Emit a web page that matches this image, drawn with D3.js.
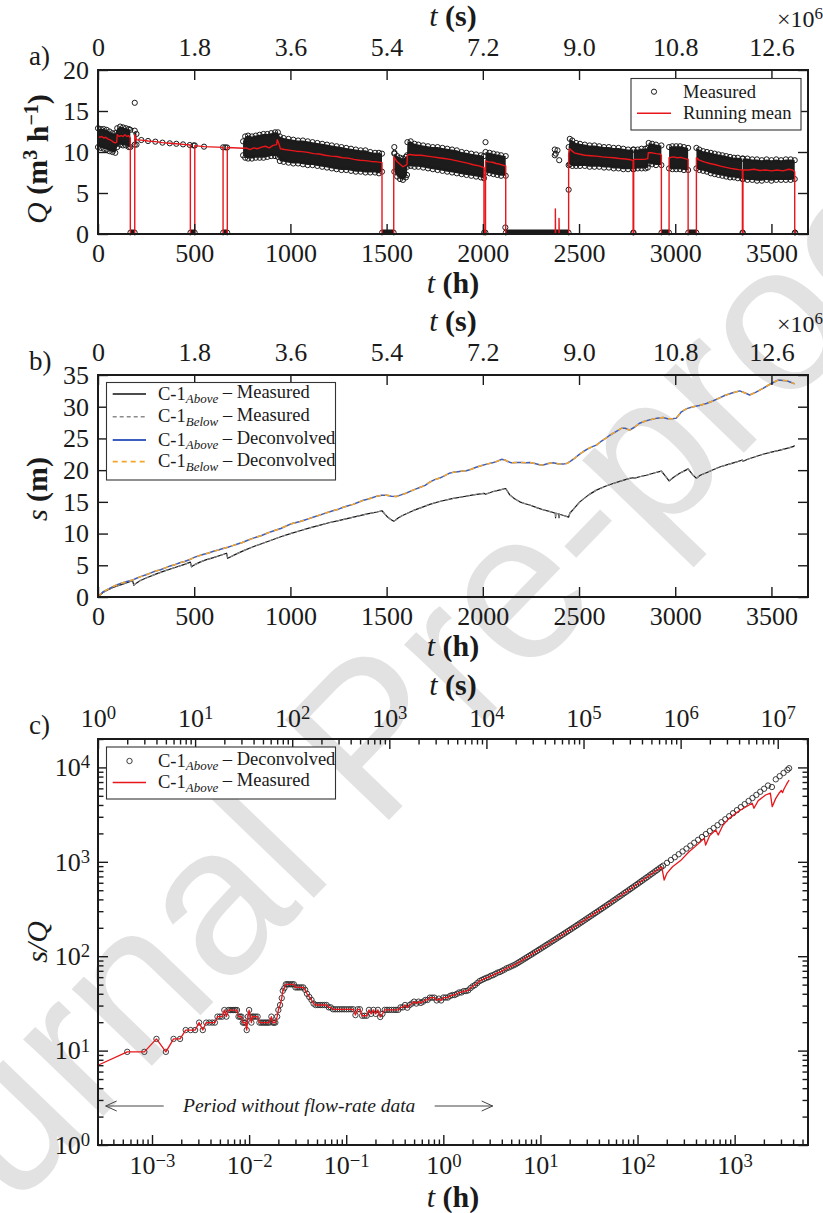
<!DOCTYPE html>
<html>
<head>
<meta charset="utf-8">
<script src="https://cdn.jsdelivr.net/npm/d3@7"></script>
<style>
  html, body { margin: 0; padding: 0; background: #fff; }
</style>
</head>
<body>
<svg id="fig" width="823" height="1213"></svg>
<script>
// ---------------------------------------------------------------------------
// Panel a: pumping rate Q (m3/h) versus time (h)
// ---------------------------------------------------------------------------
// Envelope of the measured scatter: [t (h), lower Q, upper Q]; null splits segments
const qBand = [
  [0,10.6,12.9],[15,10.5,12.8],[30,10.4,12.8],[45,10.3,12.7],[60,10.1,12.5],[75,10.0,12.3],
  [90,9.9,12.3],[100,10.6,12.9],[115,10.9,13.1],[130,10.8,13.0],[145,10.8,12.9],[160,10.6,12.8],
  [168,10.6,12.7], null,
  [191,10.9,12.6],[200,10.9,12.2], null,
  [754,9.6,11.3],[765,9.3,11.9],[780,9.2,12.0],[800,9.2,11.9],[820,9.3,12.0],[840,9.3,12.1],
  [860,9.3,12.2],[880,9.4,12.2],[900,9.5,12.3],[920,9.5,12.4],[935,9.4,12.4],[945,8.9,11.9],
  [965,8.8,11.7],[990,8.7,11.6],[1015,8.6,11.5],[1040,8.6,11.4],[1065,8.5,11.4],[1090,8.4,11.3],
  [1115,8.4,11.2],[1140,8.3,11.1],[1165,8.2,11.0],[1190,8.1,10.9],[1215,8.0,10.8],[1240,7.9,10.7],
  [1265,7.8,10.6],[1290,7.8,10.5],[1315,7.7,10.4],[1340,7.6,10.3],[1365,7.6,10.2],[1390,7.5,10.2],
  [1415,7.5,10.0],[1440,7.5,9.9],[1460,7.4,9.9],[1476,7.6,9.8], null,
  [1540,7.6,9.8],[1555,7.0,9.5],[1570,6.7,9.3],[1585,6.6,9.2],[1600,6.9,9.4],[1606,7.2,9.6],
  [1608,8.2,11.2],[1625,8.3,11.3],[1645,8.2,11.0],[1665,8.2,10.9],[1690,8.1,10.8],[1715,8.0,10.7],
  [1740,7.9,10.6],[1765,7.8,10.6],[1790,7.7,10.5],[1815,7.6,10.4],[1840,7.5,10.3],[1865,7.4,10.2],
  [1890,7.3,10.0],[1915,7.2,9.9],[1940,7.1,9.8],[1965,7.0,9.7],[1990,6.9,9.6],[2006,6.8,9.5], null,
  [2014,7.5,10.0],[2035,7.4,9.9],[2055,7.3,9.8],[2075,7.2,9.7],[2095,7.1,9.6],[2119,7.1,9.5], null,
  [2446,8.4,10.6],[2452,8.5,11.6],[2465,8.3,11.4],[2485,8.3,11.1],[2505,8.3,11.0],[2530,8.3,10.9],
  [2555,8.2,10.8],[2580,8.2,10.8],[2605,8.2,10.7],[2630,8.1,10.6],[2655,8.1,10.6],[2680,8.0,10.5],
  [2705,8.0,10.5],[2730,7.9,10.4],[2755,7.9,10.3],[2781,7.9,10.3], null,
  [2784,7.9,10.3],[2805,8.0,10.3],[2825,8.0,10.4],[2845,8.0,10.4],[2857,8.1,10.5],[2862,8.6,11.1],
  [2880,8.5,11.0],[2900,8.4,10.9],[2928,8.4,10.8], null,
  [2968,8.0,10.6],[2985,7.9,10.7],[3005,7.9,10.7],[3025,7.9,10.7],[3045,7.8,10.6],[3067,7.8,10.5], null,
  [3110,8.0,10.5],[3125,7.8,10.3],[3145,7.7,10.1],[3165,7.6,10.0],[3185,7.4,9.9],[3205,7.3,9.8],
  [3225,7.2,9.7],[3245,7.1,9.6],[3265,7.0,9.5],[3285,6.9,9.4],[3305,6.9,9.3],[3325,6.8,9.3],
  [3349,6.7,9.2], null,
  [3352,6.7,9.2],[3375,6.6,9.2],[3400,6.6,9.1],[3425,6.5,9.1],[3450,6.5,9.0],[3475,6.6,9.1],
  [3500,6.5,9.0],[3525,6.6,9.1],[3550,6.6,9.0],[3575,6.6,9.1],[3600,6.6,9.1],[3621,6.7,9.0]
];

// Isolated measured readings outside the dense record: [t (h), Q]
const qSparse = [
  [191,16.0],[225,11.46],[260,11.34],[298,11.26],[335,11.14],[373,11.06],[407,11.0],[442,10.93],
  [477,10.85],[497,10.8],[503,10.8],[551,10.65],[650,10.57],[662,10.57],[671,10.55],
  [1540,10.6],[1541,9.9],[2014,11.2],[2117,0.8],[2374,10.3],[2379,9.8],[2388,10.2],[2374,9.6],
  [2397,9.0],[2446,5.4]
];

// Stoppages (zero flow): [start h, end h]
const qZero = [
  [168,191],[480,503],[650,672],[1476,1537],[2006,2014],[2119,2446],[2781,2784],
  [2928,2968],[3067,3110],[3349,3352],[3621,3624]
];

// Running mean of Q (drops to zero during stoppages): [t (h), Q]
const qMean = [
  [0,11.9],[10,11.8],[20,11.9],[30,11.7],[40,11.8],[50,11.6],[60,11.5],[70,11.4],[80,11.2],[90,11.1],
  [97,11.2],[100,12.1],[110,11.9],[120,12.0],[130,11.9],[140,12.1],[150,11.9],[160,12.0],[168,11.7],
  [168,0],[191,0],[191,12.1],[200,11.5],[225,11.45],[260,11.34],[298,11.26],[335,11.14],[373,11.06],
  [407,11.0],[442,10.93],[480,10.85],[480,0],[503,0],[503,10.78],[551,10.65],[650,10.57],[650,0],
  [672,0],[672,10.55],[754,10.45],[770,10.5],[790,10.3],[810,10.5],[830,10.4],[850,10.6],[870,10.7],
  [890,10.5],[910,10.8],[928,10.9],[932,11.5],[940,11.0],[948,10.4],[970,10.3],[1000,10.2],
  [1030,10.1],[1060,10.05],[1090,9.95],[1120,9.8],[1150,9.75],[1180,9.6],[1210,9.5],[1240,9.45],
  [1270,9.3],[1300,9.25],[1330,9.1],[1360,9.0],[1390,8.95],[1420,8.85],[1450,8.8],[1476,8.7],
  [1476,0],[1537,0],[1537,9.4],[1555,8.8],[1570,8.5],[1585,8.2],[1600,8.4],[1606,8.5],[1608,9.6],
  [1620,9.7],[1650,9.6],[1680,9.6],[1710,9.5],[1740,9.4],[1770,9.3],[1800,9.2],[1830,9.1],
  [1860,8.95],[1890,8.8],[1920,8.65],[1950,8.45],[1980,8.3],[2006,8.1],[2006,0],[2014,0],[2014,8.9],
  [2030,8.8],[2050,8.75],[2070,8.6],[2090,8.5],[2110,8.35],[2119,8.3],[2119,0],[2377,0],[2377,3.05],
  [2378,0],[2396,0],[2396,1.9],[2397,0],[2446,0],[2446,9.8],[2452,10.4],[2460,10.2],[2475,9.9],
  [2500,9.75],[2530,9.6],[2560,9.55],[2590,9.5],[2620,9.4],[2650,9.35],[2680,9.3],[2710,9.2],
  [2740,9.15],[2770,9.05],[2781,8.95],[2781,0],[2784,0],[2784,9.1],[2810,9.1],[2840,9.1],[2857,9.2],
  [2860,9.9],[2880,9.9],[2900,9.8],[2920,9.75],[2928,9.6],[2928,0],[2968,0],[2968,9.3],[2990,9.4],
  [3010,9.3],[3030,9.35],[3050,9.2],[3067,9.1],[3067,0],[3110,0],[3110,9.3],[3125,9.0],[3150,8.8],
  [3180,8.6],[3210,8.45],[3240,8.25],[3270,8.1],[3300,7.95],[3330,7.85],[3349,7.8],[3349,0],
  [3352,0],[3352,7.8],[3380,7.8],[3410,7.9],[3440,7.75],[3470,7.8],[3500,7.7],[3530,7.8],[3560,7.7],
  [3590,7.9],[3610,7.8],[3621,7.6],[3621,0]
];

// ---------------------------------------------------------------------------
// Panel b: drawdown s (m) versus time (h)
// ---------------------------------------------------------------------------
const sAboveMeasured = [
  [0,0],[25,0.7],[50,1.1],[75,1.45],[100,1.75],[125,2.0],[150,2.25],[168,2.45],[180,2.55],[186,1.85],
  [195,2.1],[220,2.6],[250,3.0],[300,3.6],[350,4.15],[400,4.65],[450,5.15],[480,5.5],[486,4.75],
  [495,4.95],[503,5.1],[530,5.5],[560,5.85],[600,6.2],[650,6.7],[668,6.9],[674,6.1],[690,6.35],
  [720,6.8],[760,7.35],[800,7.85],[850,8.4],[900,8.95],[950,9.5],[1000,10.0],[1050,10.45],[1100,10.9],
  [1150,11.3],[1200,11.7],[1250,12.05],[1300,12.4],[1350,12.75],[1400,13.1],[1450,13.4],[1476,13.6],
  [1490,13.1],[1505,12.6],[1520,12.25],[1537,11.95],[1545,12.1],[1560,12.45],[1580,12.8],[1608,13.2],
  [1640,13.65],[1680,14.1],[1724,14.6],[1780,15.1],[1840,15.5],[1897,15.8],[1950,16.1],[2006,16.35],
  [2014,16.2],[2050,16.6],[2090,16.9],[2119,17.1],[2140,16.1],[2165,15.5],[2192,15.0],[2220,14.7],
  [2244,14.5],[2280,14.1],[2313,13.75],[2350,13.45],[2377,13.2],[2378,12.5],[2380,13.2],[2395,13.1],
  [2396,12.5],[2398,13.05],[2420,12.85],[2446,12.6],[2452,13.2],[2470,13.8],[2504,15.0],[2550,16.1],
  [2590,16.85],[2640,17.5],[2677,17.9],[2720,18.3],[2763,18.7],[2781,18.8],[2784,18.7],[2820,19.0],
  [2850,19.2],[2890,19.55],[2928,19.85],[2950,19.0],[2968,18.3],[2990,18.85],[3023,19.5],[3045,19.85],
  [3067,20.2],[3090,19.3],[3110,18.7],[3130,19.2],[3162,19.6],[3200,20.1],[3231,20.5],[3280,20.95],
  [3320,21.3],[3349,21.6],[3352,21.4],[3380,21.75],[3420,22.15],[3456,22.5],[3500,22.85],[3550,23.2],
  [3590,23.5],[3612,23.7],[3621,23.9]
];
const sBelowMeasured = [
  [0,0],[25,0.7],[50,1.1],[75,1.45],[100,1.75],[125,2.0],[150,2.25],[168,2.45],[180,2.55],[186,1.9],
  [195,2.1],[220,2.6],[250,3.0],[300,3.6],[350,4.15],[400,4.65],[450,5.15],[480,5.5],[486,4.8],
  [495,4.95],[503,5.1],[530,5.5],[560,5.85],[600,6.2],[650,6.7],[668,6.9],[674,6.15],[690,6.35],
  [720,6.8],[760,7.35],[800,7.85],[850,8.4],[900,8.95],[950,9.5],[1000,10.0],[1050,10.45],[1100,10.9],
  [1150,11.3],[1200,11.7],[1250,12.05],[1300,12.4],[1350,12.75],[1400,13.1],[1450,13.4],[1476,13.6],
  [1490,13.1],[1505,12.6],[1520,12.25],[1537,11.95],[1545,12.1],[1560,12.45],[1580,12.8],[1608,13.2],
  [1640,13.65],[1680,14.1],[1724,14.6],[1780,15.1],[1840,15.5],[1897,15.8],[1950,16.1],[2006,16.35],
  [2014,16.2],[2050,16.6],[2090,16.9],[2119,17.1],[2140,16.1],[2165,15.5],[2192,15.0],[2220,14.7],
  [2244,14.5],[2280,14.1],[2313,13.75],[2350,13.45],[2377,13.2],[2378,12.6],[2380,13.2],[2395,13.1],
  [2396,12.6],[2398,13.05],[2420,12.85],[2446,12.6],[2452,13.2],[2470,13.8],[2504,15.0],[2550,16.1],
  [2590,16.85],[2640,17.5],[2677,17.9],[2720,18.3],[2763,18.7],[2781,18.8],[2784,18.7],[2820,19.0],
  [2850,19.2],[2890,19.55],[2928,19.85],[2950,19.0],[2968,18.3],[2990,18.85],[3023,19.5],[3045,19.85],
  [3067,20.2],[3090,19.3],[3110,18.7],[3130,19.2],[3162,19.6],[3200,20.1],[3231,20.5],[3280,20.95],
  [3320,21.3],[3349,21.6],[3352,21.4],[3380,21.75],[3420,22.15],[3456,22.5],[3500,22.85],[3550,23.2],
  [3590,23.5],[3612,23.7],[3621,23.9]
];
const sAboveDeconvolved = [
  [0,0],[25,0.8],[50,1.2],[75,1.6],[100,1.95],[125,2.2],[150,2.45],[182,2.7],[200,2.95],[225,3.25],
  [250,3.5],[275,3.8],[300,4.1],[325,4.3],[350,4.6],[375,4.9],[400,5.1],[425,5.4],[450,5.6],[477,5.9],
  [500,6.25],[525,6.5],[550,6.75],[575,6.95],[600,7.2],[625,7.4],[650,7.65],[675,7.85],[700,8.1],
  [725,8.35],[750,8.6],[775,8.9],[800,9.2],[825,9.45],[850,9.7],[875,10.0],[900,10.3],[925,10.55],
  [950,10.8],[975,11.15],[1000,11.5],[1025,11.7],[1050,11.9],[1075,12.15],[1100,12.4],[1125,12.65],
  [1150,12.9],[1175,13.15],[1200,13.4],[1225,13.65],[1250,13.85],[1275,14.15],[1300,14.4],[1325,14.6],
  [1350,14.9],[1375,15.2],[1400,15.4],[1425,15.65],[1450,15.9],[1475,16.05],[1500,16.05],[1525,15.9],
  [1550,15.85],[1575,16.1],[1600,16.35],[1625,16.7],[1650,17.0],[1675,17.3],[1700,17.6],[1724,18.1],
  [1750,18.5],[1776,18.75],[1800,19.1],[1825,19.5],[1845,19.65],[1870,19.75],[1895,19.85],[1914,19.9],
  [1940,20.15],[1965,20.45],[1990,20.7],[2020,20.95],[2050,21.15],[2075,21.4],[2097,21.7],[2115,21.6],
  [2130,21.35],[2149,21.15],[2175,21.2],[2200,21.2],[2225,21.15],[2244,21.2],[2270,21.05],[2295,20.85],
  [2313,20.8],[2340,21.05],[2365,21.15],[2390,21.0],[2417,20.95],[2440,21.1],[2460,21.5],[2480,21.95],
  [2500,22.45],[2521,22.9],[2545,23.35],[2570,23.7],[2590,23.95],[2615,24.55],[2640,25.05],[2660,25.5],
  [2690,26.05],[2720,26.6],[2740,26.6],[2763,26.3],[2790,26.8],[2815,27.4],[2845,27.75],[2876,28.0],
  [2905,28.2],[2937,28.3],[2960,28.1],[2985,28.1],[3006,28.2],[3032,29.2],[3060,29.7],[3093,30.0],
  [3125,30.2],[3162,30.5],[3195,30.9],[3231,31.4],[3260,31.8],[3295,32.15],[3335,32.5],[3360,32.2],
  [3387,31.85],[3420,32.3],[3456,32.9],[3490,33.5],[3515,33.9],[3534,34.2],[3560,34.15],[3578,34.1],
  [3600,33.85],[3621,33.6]
];
const sBelowDeconvolved = sAboveDeconvolved.map(d => [d[0], d[1]]);

// ---------------------------------------------------------------------------
// Panel c: specific drawdown s/Q versus time, log-log (times stored in seconds)
// ---------------------------------------------------------------------------
// Early record, common to both series: [t (s), s/Q]
const cEarly = [
  [2,9.7],[3,9.7],[4,13.3],[5,9.7],[6,13.3],[7,13.3],[8,16.5],[9,16.5],[10,16.5],[11,19.8],
  [12,16.5],[13,19.8],[14,19.8],[15,19.8],[16,19.8],[17,22.9],[18,22.9],[19,22.9],[20,26.9],[21,22.9],
  [22,26.9],[23,26.9],[24,26.9],[25,26.9],[26,26.9],[27,26.9],[28,22.9],[29,22.9],[30,22.9],[31,19.8],
  [32,19.8],[33,19.8],[34,16.5],[35,22.9],[36,26.9],[37,22.9],[38,19.8],[39,22.9],[40,22.9],[42,22.9],
  [44,22.9],[46,19.8],[48,19.8],[50,19.8],[52,19.8],[54,19.8],[56,19.8],[58,19.8],[61,22.9],[63,19.8],
  [65,19.8],[67,19.8],[70,22.9],[72,26.9],[75,30.4],[78,36.0],[80,43.0],[83,45.9],[86,50.4],[89,50.4],
  [92,50.4],[96,50.4],[100,50.4],[104,50.4],[108,46.7],[113,46.7],[118,46.7],[124,46.7],[130,46.7],
  [136,44.0],[142,40.0],[150,37.0],[158,34.4],[166,31.5],[174,30.4],[184,30.4],[194,30.4],[204,30.4],
  [215,30.4],[226,30.4],[238,28.7],[250,28.7],[263,27.4],[277,27.4],[292,27.4],[308,27.4],[325,27.4],
  [343,27.4],[362,27.4],[382,27.4],[403,27.4],[425,27.4],[448,23.8],[472,27.4],[498,27.4],[525,23.4],
  [555,23.4],[585,23.4],[617,27.0],[650,24.5],[686,27.0],[724,24.5],[764,27.0],[806,22.7],[850,24.5],
  [897,27.0],[946,27.0],[998,27.0],[1053,27.0],[1111,27.0],[1172,27.0],[1236,27.0],[1304,28.7],
  [1376,28.7],[1451,30.4],[1531,28.5],[1615,30.4],[1704,31.5],[1798,33.0],[1897,31.5],[2001,33.0],
  [2111,32.0],[2227,33.0],[2350,34.4],[2479,34.4],[2615,36.4],[2759,36.4],[2911,36.4],[3071,34.0],
  [3240,35.5],[3418,34.0],[3606,36.5],[3805,36.5],[4014,36.5],[4235,38.0],[4468,38.8],[4713,38.8],
  [4973,40.0],[5246,41.3],[5535,41.3],[5839,42.7],[6161,42.7],[6500,43.5],[6857,46.0],[7234,48.0],
  [7632,49.5],[8052,52.0],[8495,54.5],[8963,56.0],[9456,57.5],[9976,59.0],[10525,60.0],[11104,62.0],
  [11715,63.0],[12360,65.0],[13040,67.0],[13757,68.0],[14514,70.0],[15313,72.0],[16155,74.5],
  [17044,76.0],[17982,78.0],[18971,80.0]
];
// First measured reading (before the deconvolved record starts)
const cMeasuredFirst = [1, 7.0];
// Deconvolved record after ~5 h: [t (s), s/Q]
const cDeconvolvedLate = [
  [19950,82.0],[20890,84.5],[21880,86.9],[22910,89.5],[23990,92.2],[25120,94.9],[26300,97.8],
  [27540,100.7],[28840,103.7],[30200,106.8],[31620,110.1],[33110,113.4],[34670,116.9],[36310,120.4],
  [38020,124.1],[39810,127.8],[41690,131.8],[43650,135.8],[45710,139.9],[47860,144.2],[50120,148.6],
  [52480,153.3],[54950,158.1],[57540,162.9],[60260,168.0],[63100,173.3],[66070,178.6],[69180,184.3],
  [72440,190.1],[75860,196.1],[79430,202.3],[83180,208.7],[87100,215.3],[91200,222.2],[95500,229.1],
  [100000,236.6],[104700,244.2],[109600,251.9],[114800,260.0],[120200,268.5],[125900,277.3],
  [131800,286.1],[138000,295.1],[144500,304.9],[151400,314.8],[158500,325.1],[166000,335.7],
  [173800,346.7],[182000,358.1],[190500,369.9],[199500,382.0],[208900,394.8],[218800,408.3],
  [229100,421.5],[239900,435.5],[251200,450.1],[263000,465.6],[275400,480.7],[288400,496.6],
  [302000,513.4],[316200,530.9],[331100,548.6],[346700,567.5],[363100,586.6],[380200,606.7],
  [398100,627.3],[416900,648.6],[436500,670.8],[457100,693.4],[478600,717.6],[501200,743.0],
  [524800,768.0],[549500,794.3],[575400,822.0],[602600,851.1],[631000,880.2],[660700,909.9],
  [724400,975.0],[794300,1045],[871000,1119],[955000,1202],[1047000,1288],[1148000,1380],[1259000,1483],
  [1380000,1592],[1514000,1710],[1660000,1832],[1820000,1968],[1995000,2118],[2188000,2275],
  [2399000,2443],[2630000,2630],[2884000,2825],[3162000,3041],[3467000,3273],[3802000,3524],
  [4169000,3793],[4571000,4083],[5012000,4406],[5495000,4742],[6026000,5117],[6607000,5521],
  [7244000,5943],[7943000,6427],[8710000,6200],[9550000,7482],[10470000,8072],[11480000,8730],
  [12590000,9419],[13100000,9800]
];
// Measured record after ~5 h: [t (s), s/Q]
const cMeasuredLate = [
  [19950,82.0],[31620,110.1],[50120,148.6],[79430,202.3],[125900,277.3],[199500,382.0],[316200,530.9],
  [501200,743.0],[602600,851.1],[640000,880],[677000,641],[724400,760],[825000,887],[1000000,1030],
  [1220000,1279],[1500000,1530],[1750000,1775],[1810000,1507],[1995000,1900],[2300000,2172],
  [2440000,1922],[2700000,2400],[3162000,2900],[3980000,3452],[5460000,4170],[5690000,3690],
  [6300000,4450],[7500000,5100],[8400000,5350],[8770000,3839],[9550000,4700],[10300000,5320],
  [10900000,5700],[11200000,5400],[11600000,5900],[12300000,6600],[13100000,7360]
];
// Interval without flow-rate data (s)
const noFlowSpanS = [1.2, 11600];

// Tick values
const hourTicks = [0, 500, 1000, 1500, 2000, 2500, 3000, 3500];
const secTicks = [0, 1.8e6, 3.6e6, 5.4e6, 7.2e6, 9.0e6, 10.8e6, 12.6e6];
const qTicks = [0, 5, 10, 15, 20];
const sTicks = [0, 5, 10, 15, 20, 25, 30, 35];

// ---------------------------------------------------------------------------
const INK = '#1a1a1a';
const RED = '#e8161b';
const BLUE = '#3c5fbf';
const ORANGE = '#f4a62a';
const SERIF = '"Liberation Serif","Times New Roman",serif';
const TITLE = 30;
const svg = d3.select('#fig').attr('font-family', SERIF);

// Publisher watermark behind the figure
svg.append('text')
  .attr('transform', 'translate(-142,1370) rotate(-46)')
  .attr('font-family', '"Liberation Sans", Arial, sans-serif')
  .attr('font-size', 210)
  .attr('fill', '#e2e2e2')
  .text('Journal Pre-proof');

const frames = {
  a: { l: 98, r: 808, t: 70, b: 234 },
  b: { l: 98, r: 808, t: 375, b: 597 },
  c: { l: 98, r: 808, t: 739, b: 1145 }
};

function styleAxis(g) {
  g.attr('font-family', SERIF).attr('font-size', 26);
  g.select('.domain').remove();
  g.selectAll('.tick line').attr('stroke', INK).attr('stroke-width', 1.4);
  g.selectAll('.tick text').attr('fill', INK);
}

function border(f) {
  svg.append('rect').attr('x', f.l).attr('y', f.t)
    .attr('width', f.r - f.l).attr('height', f.b - f.t)
    .attr('fill', 'none').attr('stroke', INK).attr('stroke-width', 2);
}

function richText(parent, x, y, parts, opts = {}) {
  const t = parent.append('text').attr('x', x).attr('y', y)
    .attr('font-size', opts.size || TITLE)
    .attr('text-anchor', opts.anchor || 'middle')
    .attr('fill', INK);
  if (opts.rotate) t.attr('transform', `rotate(-90,${x},${y})`);
  parts.forEach(p => {
    const s = t.append('tspan').text(p.t);
    if (p.i) s.attr('font-style', 'italic');
    if (p.b) s.attr('font-weight', 'bold');
    if (p.dy) s.attr('dy', p.dy);
    if (p.fs) s.attr('font-size', p.fs);
  });
  return t;
}

const tSec = [{ t: 't', i: 1 }, { t: ' (s)', b: 1 }];
const tHour = [{ t: 't', i: 1 }, { t: ' (h)', b: 1 }];

function linearFrame(f, x, xSec, y, yTicks) {
  const fmtSec = v => v === 0 ? '0' : (v / 1e6).toFixed(1);
  svg.append('g').attr('transform', `translate(0,${f.b})`)
    .call(d3.axisBottom(x).tickValues(hourTicks).tickSize(-10).tickPadding(10).tickFormat(d3.format('d')))
    .call(styleAxis);
  svg.append('g').attr('transform', `translate(0,${f.t})`)
    .call(d3.axisTop(xSec).tickValues(secTicks).tickSize(-10).tickPadding(14).tickFormat(fmtSec))
    .call(styleAxis);
  svg.append('g').attr('transform', `translate(${f.l},0)`)
    .call(d3.axisLeft(y).tickValues(yTicks).tickSize(-10).tickPadding(9))
    .call(styleAxis);
  svg.append('g').attr('transform', `translate(${f.r},0)`)
    .call(d3.axisRight(y).tickValues(yTicks).tickSize(-10).tickFormat(''))
    .call(styleAxis);
  border(f);
  richText(svg, (f.l + f.r) / 2, f.t - 44, tSec);
  richText(svg, (f.l + f.r) / 2, f.b + 59, tHour);
  richText(svg, 777, f.t - 43, [{ t: '\u00d710' }, { t: '6', fs: 17, dy: '-0.5em' }], { size: 24, anchor: 'start' });
}

function panelLabel(f, s) {
  svg.append('text').attr('x', 29).attr('y', f.t - 5).attr('font-size', 27).attr('fill', INK).text(s);
}

// ============================ Panel a ======================================
const fa = frames.a;
const xa = d3.scaleLinear().domain([0, 3690]).range([fa.l, fa.r]);
const xaSec = d3.scaleLinear().domain([0, 3690 * 3600]).range([fa.l, fa.r]);
const ya = d3.scaleLinear().domain([0, 20]).range([fa.b, fa.t]);
const ga = svg.append('g');

// dense measured scatter: filled envelope with circle edges
ga.append('path').datum(qBand)
  .attr('d', d3.area().defined(d => d !== null).x(d => xa(d[0])).y0(d => ya(d[1])).y1(d => ya(d[2])))
  .attr('fill', '#1c1c1c');
const edgePts = qBand.filter(d => d !== null).flatMap(d => [[d[0], d[1]], [d[0], d[2]]]);
ga.selectAll('circle.edge').data(edgePts).join('circle').attr('class', 'edge')
  .attr('cx', d => xa(d[0])).attr('cy', d => ya(d[1])).attr('r', 2.6)
  .attr('fill', 'none').attr('stroke', INK).attr('stroke-width', 1);
ga.selectAll('circle.sparse').data(qSparse).join('circle').attr('class', 'sparse')
  .attr('cx', d => xa(d[0])).attr('cy', d => ya(d[1])).attr('r', 2.6)
  .attr('fill', 'none').attr('stroke', INK).attr('stroke-width', 1);
// zero-flow readings
ga.selectAll('rect.zero').data(qZero).join('rect').attr('class', 'zero')
  .attr('x', d => xa(d[0])).attr('width', d => Math.max(1, xa(d[1]) - xa(d[0])))
  .attr('y', ya(0) - 4.5).attr('height', 4.5).attr('fill', INK);
ga.selectAll('circle.zero').data(qZero.flatMap(d => [d[0], d[1]])).join('circle').attr('class', 'zero')
  .attr('cx', d => xa(d)).attr('cy', ya(0) - 1.5).attr('r', 2.4)
  .attr('fill', 'none').attr('stroke', INK).attr('stroke-width', 1);
// running mean
ga.append('path').datum(qMean)
  .attr('d', d3.line().x(d => xa(d[0])).y(d => ya(d[1])))
  .attr('fill', 'none').attr('stroke', RED).attr('stroke-width', 1.4).attr('stroke-linejoin', 'round');

linearFrame(fa, xa, xaSec, ya, qTicks);
panelLabel(fa, 'a)');
richText(svg, 47, (fa.t + fa.b) / 2 + 7, [
  { t: 'Q', i: 1 }, { t: ' (m', b: 1 }, { t: '3', b: 1, fs: 20, dy: '-0.5em' },
  { t: ' h', b: 1, dy: '0.35em' }, { t: '\u22121', b: 1, fs: 20, dy: '-0.5em' }, { t: ')', b: 1, dy: '0.35em' }
], { rotate: true });

// legend a
{
  const lg = svg.append('g');
  lg.append('rect').attr('x', 631).attr('y', 78.5).attr('width', 170).attr('height', 51.5)
    .attr('fill', '#fff').attr('stroke', '#333').attr('stroke-width', 1.1);
  lg.append('circle').attr('cx', 654).attr('cy', 91.7).attr('r', 2.6)
    .attr('fill', 'none').attr('stroke', INK).attr('stroke-width', 1);
  lg.append('line').attr('x1', 637).attr('x2', 671).attr('y1', 113.3).attr('y2', 113.3)
    .attr('stroke', RED).attr('stroke-width', 1.4);
  lg.append('text').attr('x', 683).attr('y', 97.5).attr('font-size', 18.5).attr('fill', INK).text('Measured');
  lg.append('text').attr('x', 683).attr('y', 119).attr('font-size', 18.5).attr('fill', INK).text('Running mean');
}

// ============================ Panel b ======================================
const fb = frames.b;
const xb = d3.scaleLinear().domain([0, 3690]).range([fb.l, fb.r]);
const xbSec = d3.scaleLinear().domain([0, 3690 * 3600]).range([fb.l, fb.r]);
const yb = d3.scaleLinear().domain([0, 35]).range([fb.b, fb.t]);
const lineB = d3.line().x(d => xb(d[0])).y(d => yb(d[1]));
const seriesB = [
  { data: sAboveMeasured, color: '#111', width: 1.2, dash: null },
  { data: sBelowMeasured, color: '#8a8a8a', width: 1.2, dash: '4,3' },
  { data: sAboveDeconvolved, color: BLUE, width: 1.5, dash: null },
  { data: sBelowDeconvolved, color: ORANGE, width: 1.5, dash: '5,4' }
];
const gb = svg.append('g');
seriesB.forEach(s => {
  gb.append('path').datum(s.data).attr('d', lineB).attr('fill', 'none')
    .attr('stroke', s.color).attr('stroke-width', s.width)
    .attr('stroke-dasharray', s.dash).attr('stroke-linejoin', 'round');
});
linearFrame(fb, xb, xbSec, yb, sTicks);
panelLabel(fb, 'b)');
richText(svg, 47, (fb.t + fb.b) / 2 + 3, [{ t: 's', i: 1 }, { t: ' (m)', b: 1 }], { rotate: true });

function subLabel(g, x, y, sub, rest) {
  richText(g, x, y, [{ t: 'C-1' }, { t: sub, i: 1, fs: 13, dy: '0.3em' }, { t: ' \u2013 ' + rest, dy: '-0.3em' }],
    { size: 18.5, anchor: 'start' });
}
{
  const lg = svg.append('g');
  lg.append('rect').attr('x', 106.5).attr('y', 382.5).attr('width', 229).attr('height', 97.5)
    .attr('fill', '#fff').attr('stroke', '#333').attr('stroke-width', 1.1);
  const rows = [
    { y: 394, sub: 'Above', rest: 'Measured' },
    { y: 416.7, sub: 'Below', rest: 'Measured' },
    { y: 440, sub: 'Above', rest: 'Deconvolved' },
    { y: 461.7, sub: 'Below', rest: 'Deconvolved' }
  ];
  rows.forEach((r, i) => {
    const s = seriesB[i];
    lg.append('line').attr('x1', 112.7).attr('x2', 146).attr('y1', r.y).attr('y2', r.y)
      .attr('stroke', s.color).attr('stroke-width', s.width + 0.3).attr('stroke-dasharray', s.dash);
    subLabel(lg, 158, r.y + 5.5, r.sub, r.rest);
  });
}

// ============================ Panel c ======================================
const fc = frames.c;
const xcS = d3.scaleLog().domain([1, 2.05e7]).range([fc.l, fc.r]);
const xcH = d3.scaleLog().domain([1 / 3600, 2.05e7 / 3600]).range([fc.l, fc.r]);
const yc = d3.scaleLog().domain([1, 2e4]).range([fc.b, fc.t]);

const deconvolved = cEarly.concat(cDeconvolvedLate);
const measured = [cMeasuredFirst].concat(cEarly, cMeasuredLate);
const gc = svg.append('g');
gc.selectAll('circle').data(deconvolved).join('circle')
  .attr('cx', d => xcS(d[0])).attr('cy', d => yc(d[1])).attr('r', 2.7)
  .attr('fill', 'none').attr('stroke', '#2a2a2a').attr('stroke-width', 0.9);
gc.append('path').datum(measured)
  .attr('d', d3.line().x(d => xcS(d[0])).y(d => yc(d[1])))
  .attr('fill', 'none').attr('stroke', RED).attr('stroke-width', 1.3).attr('stroke-linejoin', 'round');

function decades(lo, hi) {
  const majors = [], minors = [];
  for (let k = Math.floor(Math.log10(lo)) - 1; k <= Math.ceil(Math.log10(hi)); k++) {
    for (let m = 1; m <= 9; m++) {
      const v = m * Math.pow(10, k);
      if (v < lo * 0.999 || v > hi * 1.001) continue;
      (m === 1 ? majors : minors).push(v);
    }
  }
  return { majors, minors };
}
function powLabels(g) {
  g.selectAll('.tick text').each(function (d) {
    const e = Math.round(Math.log10(d));
    const t = d3.select(this).text(null);
    t.append('tspan').text('10');
    t.append('tspan').attr('dy', '-0.42em').attr('font-size', '0.72em').text(e < 0 ? '\u2212' + (-e) : String(e));
  });
}
function logAxis(axisFn, scale, transform, labels, pad) {
  const d = decades(scale.domain()[0], scale.domain()[1]);
  const gMaj = svg.append('g').attr('transform', transform)
    .call(axisFn(scale).tickValues(d.majors).tickSize(-10).tickPadding(pad).tickFormat(labels ? d3.format('') : ''))
    .call(styleAxis);
  if (labels) powLabels(gMaj);
  svg.append('g').attr('transform', transform)
    .call(axisFn(scale).tickValues(d.minors).tickSize(-5.5).tickFormat(''))
    .call(styleAxis);
}
logAxis(d3.axisBottom, xcH, `translate(0,${fc.b})`, true, 11);
logAxis(d3.axisTop, xcS, `translate(0,${fc.t})`, true, 12);
logAxis(d3.axisLeft, yc, `translate(${fc.l},0)`, true, 8);
logAxis(d3.axisRight, yc, `translate(${fc.r},0)`, false, 8);
border(fc);
richText(svg, (fc.l + fc.r) / 2, fc.t - 44, tSec);
richText(svg, (fc.l + fc.r) / 2, fc.b + 62, tHour);
panelLabel(fc, 'c)');
richText(svg, 47, (fc.t + fc.b) / 2, [{ t: 's/Q', i: 1 }], { rotate: true });

// annotation: interval without flow-rate data
{
  const ay = 1106;
  const x0 = xcS(noFlowSpanS[0]), x1 = xcS(noFlowSpanS[1]);
  const ga2 = svg.append('g').attr('stroke', '#444').attr('stroke-width', 1).attr('fill', 'none');
  ga2.append('path').attr('d', `M${x0 + 58},${ay}H${x0} M${x0 + 11},${ay - 5}L${x0},${ay}L${x0 + 11},${ay + 5}`);
  ga2.append('path').attr('d', `M${x1 - 58},${ay}H${x1} M${x1 - 11},${ay - 5}L${x1},${ay}L${x1 - 11},${ay + 5}`);
  svg.append('text').attr('x', (x0 + x1) / 2).attr('y', ay + 6).attr('text-anchor', 'middle')
    .attr('font-size', 19.5).attr('font-style', 'italic').attr('fill', INK)
    .text('Period without flow-rate data');
}

// legend c
{
  const lg = svg.append('g');
  lg.append('rect').attr('x', 106.5).attr('y', 747).attr('width', 229).attr('height', 52)
    .attr('fill', '#fff').attr('stroke', '#333').attr('stroke-width', 1.1);
  lg.append('circle').attr('cx', 129.5).attr('cy', 761).attr('r', 2.7)
    .attr('fill', 'none').attr('stroke', '#2a2a2a').attr('stroke-width', 0.9);
  lg.append('line').attr('x1', 112.7).attr('x2', 146).attr('y1', 782.5).attr('y2', 782.5)
    .attr('stroke', RED).attr('stroke-width', 1.4);
  subLabel(lg, 158, 766.5, 'Above', 'Deconvolved');
  subLabel(lg, 158, 788, 'Above', 'Measured');
}
</script>
</body>
</html>
